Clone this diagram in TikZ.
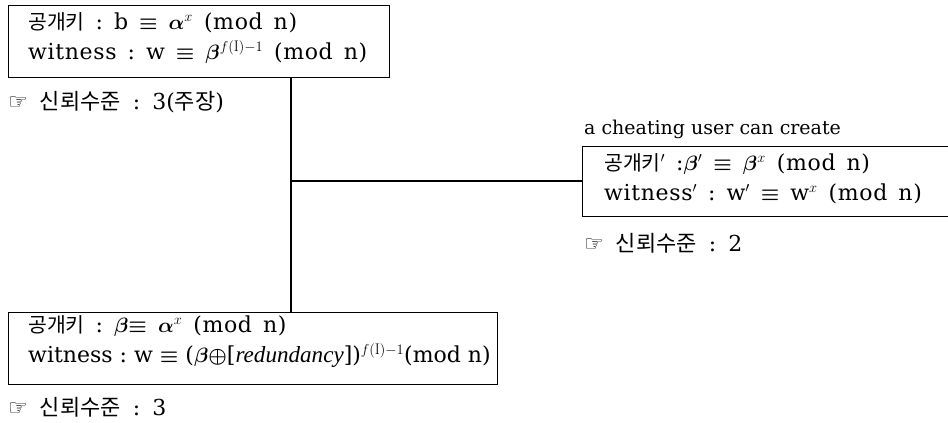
\documentclass[tikz,border=0pt]{standalone}
\usepackage{fontspec}
\usepackage{amsmath}
\usepackage{bm}
\newfontfamily\lat{DejaVu Serif}[LetterSpace=3]
\newfontfamily\plain{DejaVu Serif}
\newfontfamily\kr{Noto Sans CJK KR}[Scale=0.93]
\newfontfamily\krl{Noto Sans CJK KR}
\newfontfamily\symf{DejaVu Sans}
\newfontfamily\timesit{Liberation Serif}[Scale=1.05]
\newcommand{\sep}{\hspace{11pt}}
\newcommand{\tsep}{\hspace{7pt}}
\newcommand{\lsep}{\hspace{12pt}}
\newcommand{\eqv}{$\boldsymbol{\equiv}$}
\newcommand{\supf}{$^{f(\mathrm{I})-1}$}
\begin{document}
\begin{tikzpicture}[x=1pt,y=-1pt,
  box/.style={draw, line width=1.2pt, anchor=north west, inner sep=0pt},
  row/.style={anchor=base west, inner sep=0pt, font=\fontsize{22}{26}\lat},
  lbl/.style={anchor=base west, inner sep=0pt, font=\fontsize{22}{26}\plain},
  conn/.style={line width=1.2pt}]
\useasboundingbox (0,0) rectangle (948,423);
\clip (0,0) rectangle (948,423);
% box 1
\node[box, minimum width=381pt, minimum height=72pt] (b1) at (8,5) {};
\node[row] (r1a) at (28,29) {{\kr 공개키}\sep:\sep b\sep\eqv\sep$\bm{\alpha}^{x}$\sep(mod\sep n)};
\node[row] (r1b) at (28,59) {witness\sep:\sep w\sep\eqv\sep$\bm{\beta}$\supf\sep(mod\sep n)};
\node[lbl] (l1) at (8,109) {{\symf ☞}\lsep{\krl 신뢰수준}\lsep:\lsep3({\krl 주장})};
% box 2
\node[lbl, font=\fontsize{19}{23}\plain] (t2) at (584,134) {a cheating user can create};
\node[box, minimum width=372pt, minimum height=70pt] (b2) at (582,146) {};
\node[row] (r2a) at (604,170) {{\kr 공개키}$'$\sep:$\bm{\beta}'$\sep\eqv\sep$\bm{\beta}^{x}$\sep(mod\sep n)};
\node[row] (r2b) at (604,200) {witness$'$\sep:\sep w$'$\sep\eqv\sep w$^{x}$\sep(mod\sep n)};
\node[lbl] (l2) at (584,251) {{\symf ☞}\lsep{\krl 신뢰수준}\lsep:\lsep2};
% box 3
\node[box, minimum width=489pt, minimum height=72pt] (b3) at (8,312) {};
\node[row] (r3a) at (28,332) {{\kr 공개키}\sep:\sep$\bm{\beta}$\eqv\sep$\bm{\alpha}^{x}$\sep(mod\sep n)};
\node[row, font=\fontsize{22}{26}\plain] (r3b) at (28,362) {witness\tsep:\tsep w\tsep\eqv\tsep($\bm{\beta}\bm{\oplus}$[{\timesit\itshape redundancy}])\supf(mod\tsep n)};
\node[lbl] (l3) at (8,415) {{\symf ☞}\lsep{\krl 신뢰수준}\lsep:\lsep3};
% connectors
\coordinate (j) at (291,181);
\draw[conn] (b1.south -| j) -- (b3.north -| j);
\draw[conn] (j) -- (b2.west |- j);
\end{tikzpicture}
\end{document}
